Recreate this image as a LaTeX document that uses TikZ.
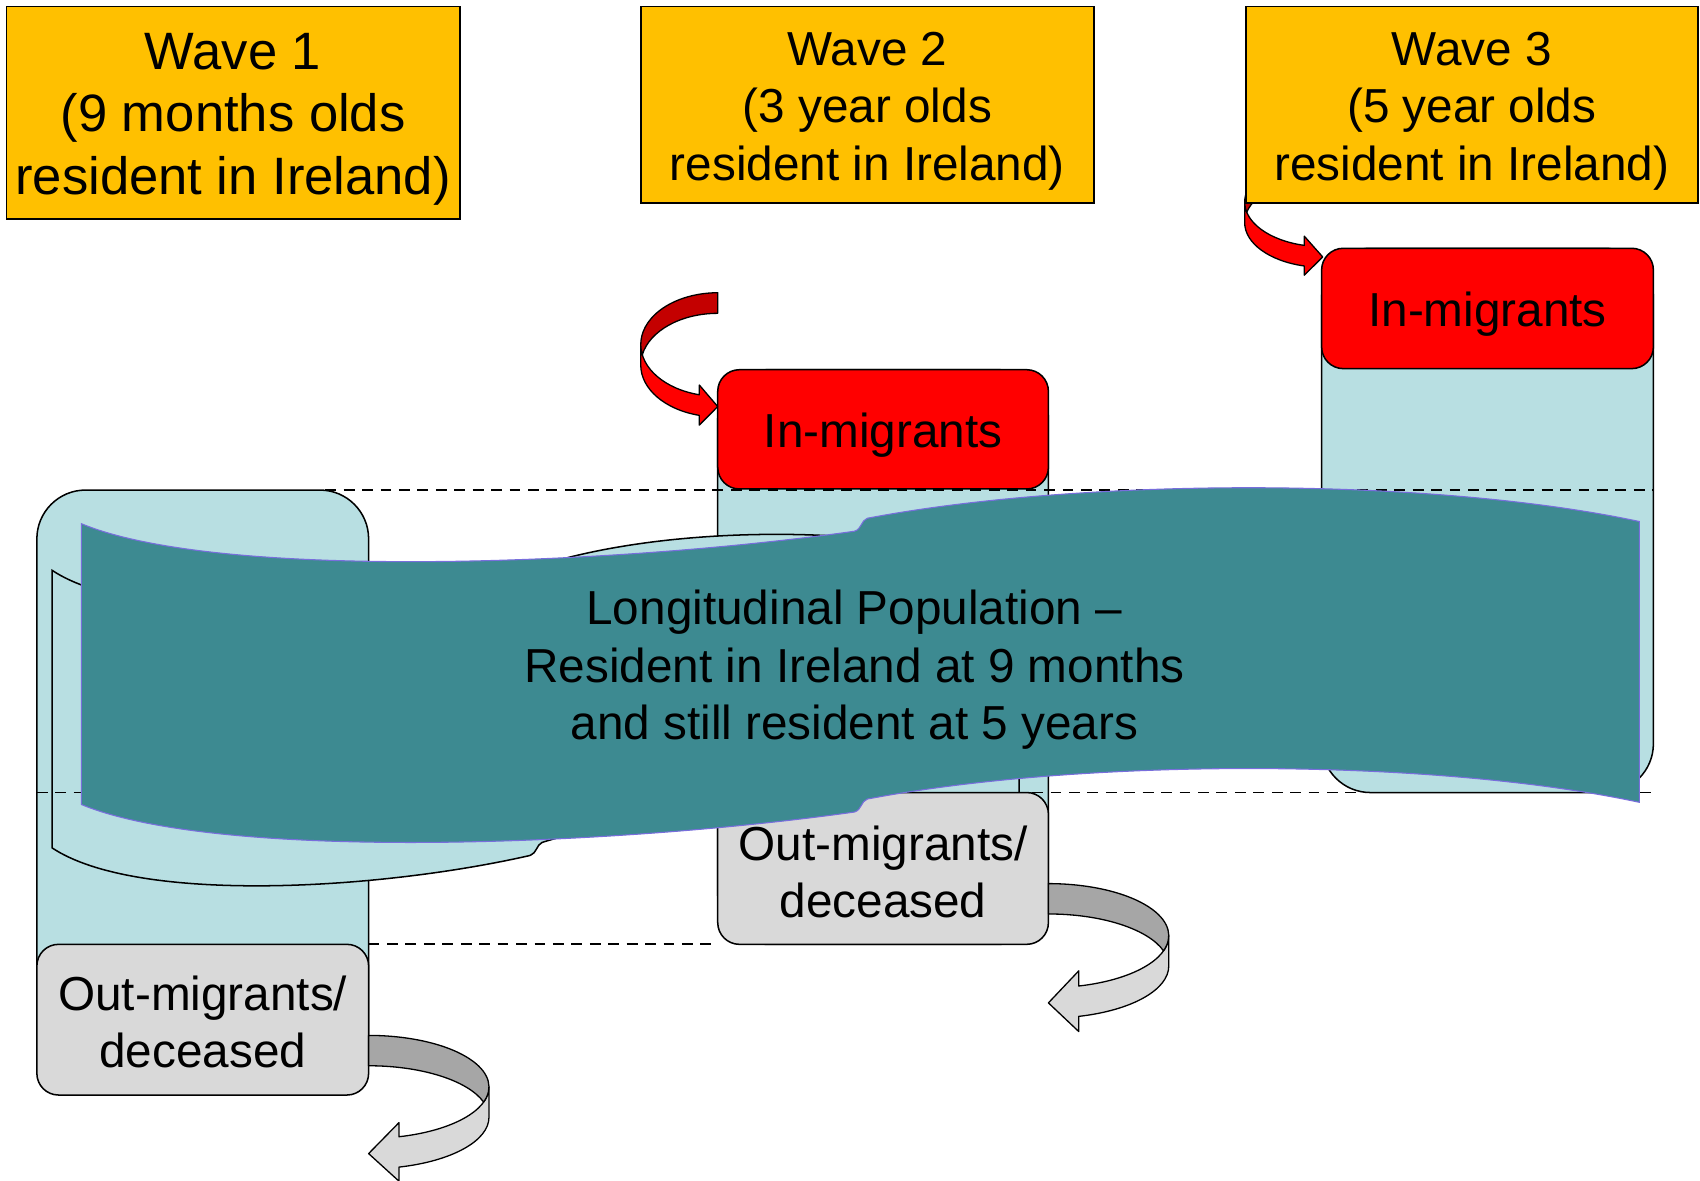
\documentclass[tikz,border=0pt]{standalone}
\usepackage{fontspec}
\setmainfont{Liberation Sans}
\definecolor{waveY}{RGB}{255,192,0}
\definecolor{colB}{RGB}{184,223,226}
\definecolor{tealC}{RGB}{61,138,145}
\definecolor{tealL}{RGB}{120,110,220}
\definecolor{inRed}{RGB}{255,0,0}
\definecolor{inDark}{RGB}{196,0,0}
\definecolor{outG}{RGB}{217,217,217}
\definecolor{outDark}{RGB}{166,166,166}
\tikzset{
  wavebox/.style={draw=black, line width=1.6pt, fill=waveY, inner sep=0pt},
  bigtext/.style={inner sep=0pt, align=center, font=\fontsize{44}{53}\selectfont},
  colshape/.style={draw=black, line width=1.4pt, fill=colB},
  migbox/.style={draw=black, line width=1.4pt, rounded corners=20pt, inner sep=0pt, minimum width=305pt},
  inbox/.style={migbox, fill=inRed, minimum height=110pt},
  outbox/.style={migbox, fill=outG, minimum height=140pt},
  guide/.style={draw=black, line width=1.6pt, dash pattern=on 10pt off 7pt},
  bandline/.style={draw=black, line width=1.2pt, line join=round},
}
% curved band arrow: #1 scope options, #2 w, #3 h, #4 th, #5 aw, #6 ah, #7 front, #8 back
\newcommand\curvarrow[8]{%
  \begin{scope}[#1]
  \pgfmathsetmacro\caR{#3/2-(#4+#5)/4}
  \pgfmathsetmacro\caPhi{acos(-#6/#2)}
  \pgfmathsetmacro\caYf{\caR+\caR*sin(\caPhi)}
  \pgfmathsetmacro\caYa{\caYf-(#5-#4)/2}
  \pgfmathsetmacro\caYs{\caYf+#4}
  \pgfmathsetmacro\caYb{\caYs+(#5-#4)/2}
  \pgfmathsetmacro\caTip{#3-#5/2}
  \pgfmathsetmacro\caAl{asin(#4/(2*\caR))}
  \pgfmathsetmacro\caEa{180-\caAl}
  \pgfmathsetmacro\caEb{180+\caAl}
  \filldraw[bandline, fill=#7]
    (-#2,\caR) arc[start angle=180, end angle=\caPhi, x radius=#2, y radius=\caR]
    -- (-#6,\caYa) -- (0,\caTip) -- (-#6,\caYb) -- (-#6,\caYs)
    arc[start angle=\caPhi, end angle=180, x radius=#2, y radius=\caR] -- cycle;
  \filldraw[bandline, fill=#8]
    (0,0) arc[start angle=270, end angle=\caEa, x radius=#2, y radius=\caR]
    arc[start angle=\caEb, end angle=270, x radius=#2, y radius=\caR] -- cycle;
  \end{scope}}
\begin{document}
\begin{tikzpicture}[x=1pt,y=-1pt]
\useasboundingbox (0,0) rectangle (1568,1089);
% arrow into wave 3 in-migrants (partly behind the wave box)
\curvarrow{shift={(1220,145)}}{72}{110}{19}{36}{17}{inRed}{inDark}
% wave boxes
\node[wavebox, minimum width=418pt, minimum height=196pt] (w1) at (215,104) {};
\node[bigtext, font=\fontsize{48.5}{58}\selectfont] (w1t) at ([yshift=-6pt]w1.center)
  {Wave 1\\(9 months olds\\resident in Ireland)};
\node[wavebox, minimum width=418pt, minimum height=181pt] (w2) at (800,96.5) {};
\node[bigtext] (w2t) at ([yshift=-6pt]w2.center) {Wave 2\\(3 year olds\\resident in Ireland)};
\node[wavebox, minimum width=417pt, minimum height=181pt] (w3) at (1357.5,96.5) {};
\node[bigtext] (w3t) at ([yshift=-6pt]w3.center) {Wave 3\\(5 year olds\\resident in Ireland)};
% columns
\path[colshape, rounded corners=45pt] (34,452) rectangle (340,1010);
\path[colshape, rounded corners=45pt] (662,341) rectangle (967,871);
\path[colshape, rounded corners=45pt] (1219,229) rectangle (1525,731);
% back scroll
\path[colshape] (48,526) .. controls (126,578) and (349,565) .. (489,533)
  .. controls (495,531) and (495,523) .. (500,521)
  .. controls (622,483) and (820,483) .. (940,524) -- (940,780)
  .. controls (820,739) and (622,739) .. (500,777)
  .. controls (495,779) and (495,787) .. (489,789)
  .. controls (349,821) and (126,834) .. (48,782) -- cycle;
% migrant boxes
\node[inbox] (in2) at (814.5,396) {};
\node[bigtext] (in2t) at ([yshift=-5pt]in2.center) {In-migrants};
\node[inbox, minimum width=306pt, minimum height=111pt] (in3) at (1372,284.5) {};
\node[bigtext] (in3t) at ([yshift=-5pt]in3.center) {In-migrants};
\node[outbox] (out2) at (814.5,801) {};
\node[bigtext] (out2t) at ([yshift=-3pt]out2.center) {Out-migrants/\\deceased};
\node[outbox, minimum width=306pt, minimum height=139pt] (out1) at (187,940.5) {};
\node[bigtext] (out1t) at ([yshift=-2pt]out1.center) {Out-migrants/\\deceased};
% curved arrows
\curvarrow{shift={(662,270)}}{71}{123.5}{19}{37}{17}{inRed}{inDark}
\curvarrow{shift={(967,815)},xscale=-1}{111}{138}{28}{56}{28}{outG}{outDark}
\curvarrow{shift={(340,955)},xscale=-1}{111}{136}{28}{54}{28}{outG}{outDark}
% dashed guides
\draw[guide] (300,452) -- (1525,452);
\draw[guide] (34,731) -- (1525,731);
\draw[guide] (340,871) -- (662,871);
% main scroll
\path[fill=tealC, draw=tealL, line width=1pt] (75,483) .. controls (200,535) and (560,522) .. (788,490)
  .. controls (795,488) and (794,480) .. (800,478)
  .. controls (1000,440) and (1320,440) .. (1512,481) -- (1512,740)
  .. controls (1320,699) and (1000,699) .. (800,737)
  .. controls (794,739) and (795,747) .. (788,749)
  .. controls (560,781) and (200,794) .. (75,742) -- cycle;
\node[bigtext] (pop) at (788,618)
  {Longitudinal Population –\\Resident in Ireland at 9 months\\and still resident at 5 years};
\end{tikzpicture}
\end{document}
